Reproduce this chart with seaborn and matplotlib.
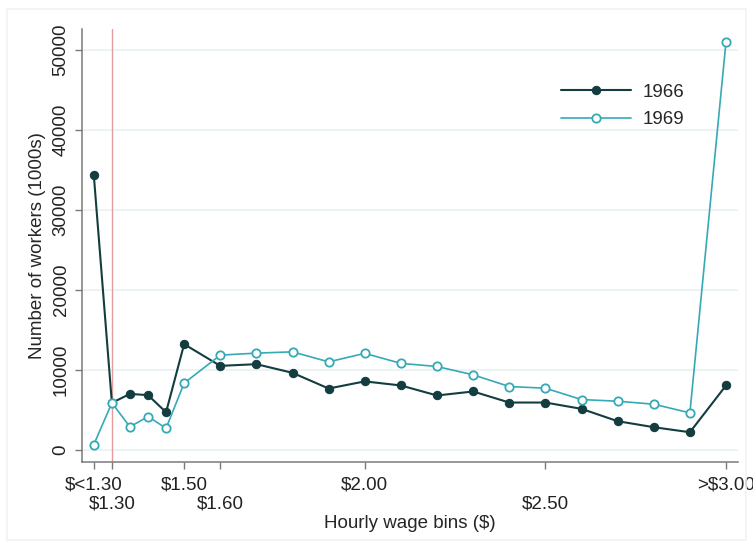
import pandas as pd
import matplotlib.pyplot as plt
import seaborn as sns

# Wage bins (x position in $) and workers in 1000s
wage = [1.25, 1.30, 1.35, 1.40, 1.45, 1.50, 1.60, 1.70, 1.80, 1.90, 2.00,
        2.10, 2.20, 2.30, 2.40, 2.50, 2.60, 2.70, 2.80, 2.90, 3.00]
workers_1966 = [34340, 5920, 7040, 6880, 4750, 13250, 10540, 10750, 9670, 7710, 8600,
                8090, 6840, 7340, 5960, 5960, 5170, 3630, 2880, 2250, 8090]
workers_1969 = [710, 5920, 2920, 4210, 2750, 8380, 11880, 12130, 12290, 11040, 12100,
                10850, 10460, 9420, 7960, 7750, 6330, 6125, 5750, 4670, 51040]

# tick labels are staggered on two rows
ticks_row1 = [1.25, 1.50, 2.00, 3.00]
labels_row1 = ["$<1.30", "$1.50", "$2.00", ">$3.00"]
ticks_row2 = [1.30, 1.60, 2.50]
labels_row2 = ["$1.30", "$1.60", "$2.50"]
min_wage = 1.30

col66 = "#133d3f"
col69 = "#36a9b6"
fs = 13.5

sns.set_style("white")
plt.rcParams["font.family"] = ["Liberation Sans", "DejaVu Sans"]

df = pd.DataFrame({"wage": wage, "w1966": workers_1966, "w1969": workers_1969})

fig, ax = plt.subplots(figsize=(7.53, 5.49), dpi=100)
fig.subplots_adjust(left=0.109, right=0.980, top=0.947, bottom=0.158)

# faint outer frame like the Stata graph region
fig.patches.append(plt.Rectangle((0.009, 0.016), 0.982, 0.968, transform=fig.transFigure,
                                 fill=False, edgecolor="#f0f4f4", lw=1.2))

for y in range(0, 50001, 10000):
    ax.axhline(y, color="#eaf2f2", lw=1.3, zorder=0)
ax.axvline(min_wage, color="#e49c9c", lw=1.0, zorder=1)

sns.lineplot(data=df, x="wage", y="w1966", ax=ax, color=col66, lw=1.5,
             marker="o", markersize=6, markerfacecolor=col66, markeredgecolor=col66,
             label="1966", zorder=3)
sns.lineplot(data=df, x="wage", y="w1969", ax=ax, color=col69, lw=1.2,
             marker="o", markersize=6, markerfacecolor="white", markeredgecolor=col69,
             markeredgewidth=1.3, label="1969", zorder=4)

ax.set_xlim(1.2175, 3.033)
ax.set_ylim(-1500, 52600)
ax.set_xticks(ticks_row1)
ax.set_xticklabels(labels_row1, fontsize=fs)
ax.set_xticks(ticks_row2, minor=True)
ax.set_xticklabels(labels_row2, minor=True, fontsize=fs)
ax.set_yticks(range(0, 50001, 10000))
ax.set_yticklabels([str(v) for v in range(0, 50001, 10000)], fontsize=fs,
                   rotation=90, va="center")
ax.set_xlabel("Hourly wage bins ($)", fontsize=fs, labelpad=2)
ax.set_ylabel("Number of workers (1000s)", fontsize=fs, labelpad=5)

sns.despine(ax=ax)
for s in ["left", "bottom"]:
    ax.spines[s].set_color("#7a7a7a")
    ax.spines[s].set_linewidth(1.1)
ax.tick_params(axis="x", which="both", bottom=True)
ax.tick_params(axis="y", which="major", left=True)
ax.tick_params(axis="both", which="both", direction="out", length=5, width=1.0,
               color="#7a7a7a", labelcolor="#222222", pad=4)
ax.tick_params(axis="x", which="major", pad=5)
ax.tick_params(axis="x", which="minor", pad=19)

ax.legend(loc="upper left", bbox_to_anchor=(0.705, 0.913), frameon=False, fontsize=fs,
          handlelength=3.7, handletextpad=0.65, labelspacing=0.55)

fig.savefig("out.png", dpi=100)
